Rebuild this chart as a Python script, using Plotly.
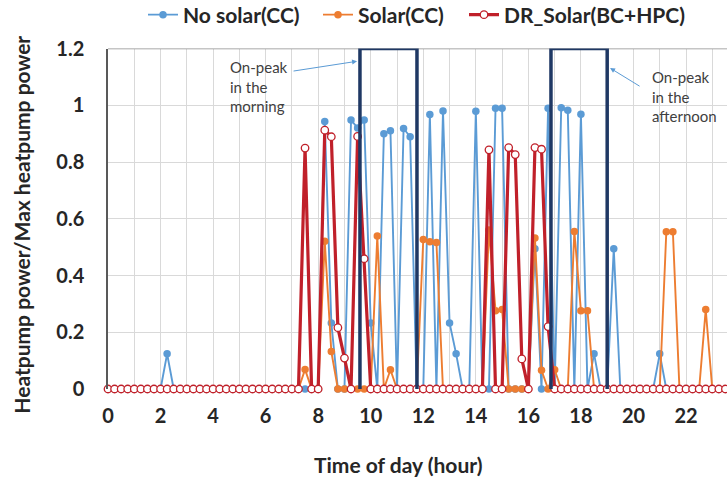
import plotly.graph_objects as go

# time grid: 15-minute steps over the day (hours)
time_h = [i * 0.25 for i in range(96)]

# values per hour row: (h, h+0.25, h+0.5, h+0.75)
no_solar_cc = [
    0, 0, 0, 0,            # 0
    0, 0, 0, 0,            # 1
    0, 0.124, 0, 0,        # 2
    0, 0, 0, 0,            # 3
    0, 0, 0, 0,            # 4
    0, 0, 0, 0,            # 5
    0, 0, 0, 0,            # 6
    0, 0, 0, 0,            # 7
    0, 0.943, 0.233, 0,    # 8
    0, 0.948, 0.92, 0.948, # 9
    0.233, 0, 0.90, 0.91,  # 10
    0, 0.918, 0.889, 0,    # 11
    0, 0.967, 0, 0.98,     # 12
    0.233, 0.124, 0, 0,    # 13
    0.979, 0, 0, 0.989,    # 14
    0.989, 0, 0, 0,        # 15
    0, 0.494, 0, 0.989,    # 16
    0, 0.991, 0.982, 0,    # 17
    0.968, 0, 0.124, 0,    # 18
    0, 0.494, 0, 0,        # 19
    0, 0, 0, 0,            # 20
    0.124, 0, 0, 0,        # 21
    0, 0, 0, 0,            # 22
    0, 0, 0, 0,            # 23
]

solar_cc = [
    0, 0, 0, 0,            # 0
    0, 0, 0, 0,            # 1
    0, 0, 0, 0,            # 2
    0, 0, 0, 0,            # 3
    0, 0, 0, 0,            # 4
    0, 0, 0, 0,            # 5
    0, 0, 0, 0,            # 6
    0, 0, 0.069, 0,        # 7
    0, 0.521, 0.132, 0,    # 8
    0, 0, 0, 0,            # 9
    0, 0.539, 0, 0.068,    # 10
    0, 0, 0, 0,            # 11
    0.527, 0.519, 0.516, 0,# 12
    0, 0, 0, 0,            # 13
    0, 0, 0.56, 0.276,     # 14
    0.28, 0, 0, 0,         # 15
    0, 0.532, 0.066, 0,    # 16
    0.068, 0, 0, 0.555,    # 17
    0.276, 0.276, 0, 0,    # 18
    0, 0, 0, 0,            # 19
    0, 0, 0, 0,            # 20
    0, 0.554, 0.554, 0,    # 21
    0, 0, 0, 0.28,         # 22
    0, 0, 0, 0,            # 23
]

dr_solar = [
    0, 0, 0, 0,            # 0
    0, 0, 0, 0,            # 1
    0, 0, 0, 0,            # 2
    0, 0, 0, 0,            # 3
    0, 0, 0, 0,            # 4
    0, 0, 0, 0,            # 5
    0, 0, 0, 0,            # 6
    0, 0, 0.849, 0,        # 7
    0, 0.912, 0.889, 0.216,# 8
    0.109, 0, 0.89, 0.459, # 9
    0, 0, 0, 0,            # 10
    0, 0, 0, 0,            # 11
    0, 0, 0, 0,            # 12
    0, 0, 0, 0,            # 13
    0, 0, 0.843, 0,        # 14
    0, 0.851, 0.826, 0.106,# 15
    0, 0.851, 0.845, 0.22, # 16
    0, 0, 0, 0,            # 17
    0, 0, 0, 0,            # 18
    0, 0, 0, 0,            # 19
    0, 0, 0, 0,            # 20
    0, 0, 0, 0,            # 21
    0, 0, 0, 0,            # 22
    0, 0, 0, 0,            # 23
]

series_names = ["No solar(CC)", "Solar(CC)", "DR_Solar(BC+HPC)"]
x_tick_vals = [0, 2, 4, 6, 8, 10, 12, 14, 16, 18, 20, 22]
y_tick_vals = [0, 0.2, 0.4, 0.6, 0.8, 1, 1.2]
peak_windows = [(9.59, 11.76), (16.86, 19.0)]

BLUE = "#5B9BD5"
ORANGE = "#ED7D31"
RED = "#C0202A"
NAVY = "#1F3864"
FONT = "Lato"
TXT = "#262626"

fig = go.Figure()
fig.add_trace(go.Scatter(
    x=time_h, y=no_solar_cc, name=series_names[0], mode="lines+markers",
    line=dict(color=BLUE, width=1.9), marker=dict(color=BLUE, size=7.5),
    cliponaxis=False, legend="legend"))
fig.add_trace(go.Scatter(
    x=time_h, y=solar_cc, name=series_names[1], mode="lines+markers",
    line=dict(color=ORANGE, width=1.9), marker=dict(color=ORANGE, size=7.5),
    cliponaxis=False, legend="legend2"))
fig.add_trace(go.Scatter(
    x=time_h, y=dr_solar, name=series_names[2], mode="lines+markers",
    line=dict(color=RED, width=3.2), marker=dict(color="white", size=7.5,
    line=dict(color=RED, width=1.3)),
    cliponaxis=False, legend="legend3"))

shapes = [dict(type="line", xref="paper", yref="y", x0=0, x1=1, y0=1.2, y1=1.2,
               line=dict(color="#8c8c8c", width=1.5), layer="above")]
for x0, x1 in peak_windows:
    shapes.append(dict(type="rect", xref="x", yref="y", x0=x0, x1=x1,
                       y0=-0.031, y1=1.2, line=dict(color=NAVY, width=3.5),
                       fillcolor="rgba(0,0,0,0)", layer="above"))

annotations = [
    dict(text="On-peak<br>in the<br>morning", xref="x", yref="y",
         x=(228 - 108) / 26.27, y=(389 - 51) / 288.3, xanchor="left", yanchor="top",
         align="left", showarrow=False, font=dict(family=FONT, size=15, color="#404040")),
    dict(text="On-peak<br>in the<br>afternoon", xref="x", yref="y",
         x=(650 - 108) / 26.27, y=(389 - 61) / 288.3, xanchor="left", yanchor="top",
         align="left", showarrow=False, font=dict(family=FONT, size=15, color="#404040")),
    dict(text="", xref="x", yref="y", x=9.48, y=1.155, ax=-65, ay=10,
         showarrow=True, arrowhead=2, arrowsize=1, arrowwidth=1, arrowcolor=BLUE),
    dict(text="", xref="x", yref="y", x=19.11, y=1.131, ax=31, ay=19,
         showarrow=True, arrowhead=2, arrowsize=1, arrowwidth=1, arrowcolor=BLUE),
    dict(text="Time of day (hour)", xref="paper", yref="paper", x=(398 - 108) / 619,
         y=-(466 - 389) / 346, xanchor="center", yanchor="middle", showarrow=False,
         font=dict(family=FONT, size=21, color=TXT, weight="bold")),
    dict(text="Heatpump power/Max heatpump power", xref="paper", yref="paper",
         x=-(108 - 22) / 619, y=(389 - 222) / 346, xanchor="center", yanchor="middle",
         textangle=-90, showarrow=False,
         font=dict(family=FONT, size=21, color=TXT, weight="bold")),
]

legend_font = dict(family=FONT, size=21, color=TXT, weight="bold")
def make_legend(xpx):
    return dict(orientation="h", xref="container", yref="container",
                x=xpx / 727, y=1 - 15 / 479, xanchor="left", yanchor="middle",
                font=legend_font, bgcolor="rgba(0,0,0,0)")

fig.update_layout(
    width=727, height=479,
    margin=dict(l=108, r=0, t=43, b=90),
    plot_bgcolor="white", paper_bgcolor="white",
    font=dict(family=FONT, color=TXT),
    shapes=shapes, annotations=annotations,
    showlegend=True,
    legend=make_legend(143),
    legend2=make_legend(318),
    legend3=make_legend(464),
    xaxis=dict(range=[0, 23.56], tickvals=x_tick_vals, showgrid=True,
               gridcolor="#d9d9d9", gridwidth=1, zeroline=False, showline=False,
               minor=dict(dtick=1, tick0=0, showgrid=True, gridcolor="#d9d9d9", gridwidth=1),
               ticks="", ticklabelstandoff=13,
               tickfont=dict(family=FONT, size=20, color=TXT, weight="bold")),
    yaxis=dict(range=[0, 1.2], tickvals=y_tick_vals, showgrid=True,
               gridcolor="#d9d9d9", gridwidth=1, zeroline=False,
               showline=True, linecolor="#595959", linewidth=1.5,
               ticks="", ticklabelstandoff=18,
               tickfont=dict(family=FONT, size=20, color=TXT, weight="bold")),
)

fig.write_html("out.html")
